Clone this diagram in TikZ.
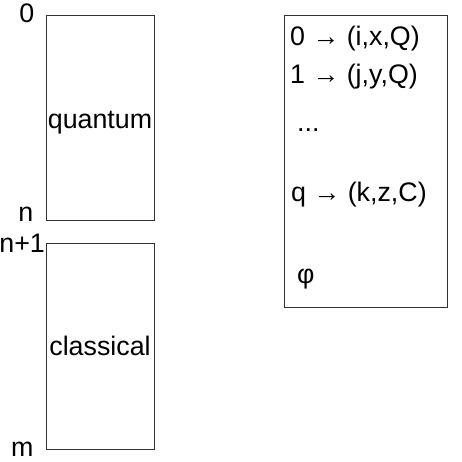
\documentclass[tikz,border=0pt]{standalone}
\usepackage{fontspec}
\setmainfont{Liberation Sans}
\usetikzlibrary{positioning}

\begin{document}
\begin{tikzpicture}[x=1pt,y=-1pt]

 \tikzset{reg box/.style={
 		draw=black!80,
 		line width=0.9pt,
 		minimum width=108pt,
 		inner sep=0pt
 	},
 	idx label/.style={
 		font=\fontsize{26.8}{30}\selectfont,
 		inner sep=0pt
 	}
 }
 \useasboundingbox (0,0) rectangle (461,462);

 % registers
 \node[reg box, minimum height=205pt] (quant) at (100,117.5) {};
 \node[reg box, minimum height=206pt] (class) at (100,346) {};
 \node[idx label, anchor=base] at ([yshift=-11pt]quant.center) {quantum};
 \node[idx label, anchor=base] at ([yshift=-9pt]class.center) {classical};

 % indices
 \node[idx label, anchor=base east] (i0) at ([xshift=-11pt,yshift=-7.5pt]quant.north west) {0};
 \node[idx label, anchor=base east] (in) at ([xshift=-12pt,yshift=-1pt]quant.south west) {n};
 \node[idx label, anchor=base east] (in1) at ([xshift=-0.5pt,yshift=-10pt]class.north west) {n+1};
 \node[idx label, anchor=base east] (im) at ([xshift=-12pt,yshift=-7pt]class.south west) {m};

 % mapping
 \node[draw=black!80, line width=0.9pt, minimum width=163pt, minimum height=292pt] (map) at (365.5,161) {};
 \node[idx label, anchor=base west] (m0) at (290,46) {0 → (i,x,Q)};
 \node[idx label, anchor=base west] (m1) at (290,84) {1 → (j,y,Q)};
 \node[idx label, anchor=base west] (mdots) at (297,132) {...};
 \node[idx label, anchor=base west] (mq) at (291,201) {q → (k,z,C)};
 \node[idx label, anchor=base west] (mphi) at (297,283) {φ};

\end{tikzpicture}
\end{document}
